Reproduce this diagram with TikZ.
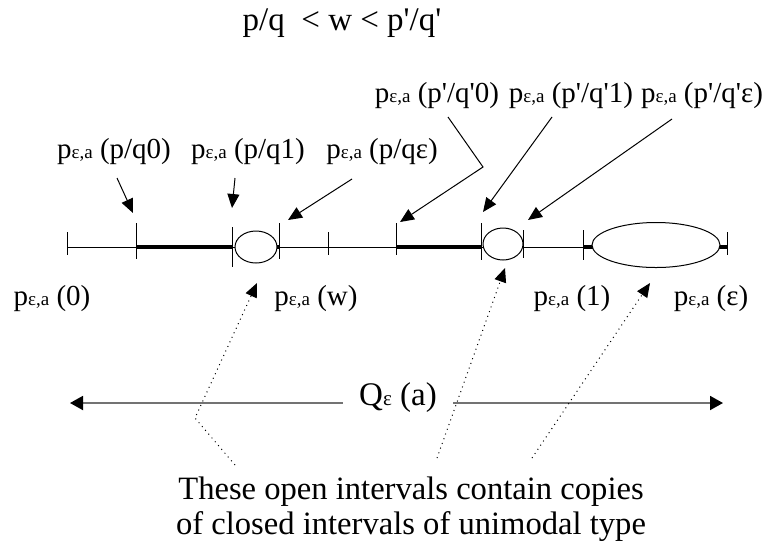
\documentclass[tikz,border=0pt]{standalone}
\usepackage{fontspec}
\setmainfont{Liberation Serif}
\usetikzlibrary{arrows.meta}

% straight prime and the p_{eps,a} symbol
\newcommand{\pr}{\textquotesingle}
\newcommand{\pe}{p{\fontsize{9.5}{10}\selectfont ε,a}}

\tikzset{
  lbl/.style={inner sep=0pt, anchor=base, font=\fontsize{14.5}{17}\selectfont},
  ptr/.style={-{Triangle[length=7pt,width=6pt]}, line width=0.5pt},
  dotptr/.style={ptr, dotted},
  thinseg/.style={line width=0.5pt},
  thickseg/.style={line width=1.6pt},
  qline/.style={-{Triangle[length=6.5pt,width=7pt,color=black]}, draw=black!55, line width=0.9pt}
}

\begin{document}
\begin{tikzpicture}[x=0.5pt,y=-0.5pt]
\useasboundingbox (0,0) rectangle (769,547);

% Title
\node[lbl, font=\fontsize{16.5}{20}\selectfont] (title) at (342,30) {p/q\ \ < w < p\pr/q\pr};

% The interval with its ticks
\draw[thinseg] (67,247) -- (727,247);
\draw[thickseg] (136,247) -- (232,247) (396,247) -- (481,247)
  (583,247) -- (595,247) (717,247) -- (727,247) (274,247) -- (279,247);
\foreach \x/\a/\b in {67/232/255, 136/223/259, 232/227/267, 279/223/259, 328/232/255,
  396/223/255, 481/223/260, 523/230/258, 583/230/260, 727/232/255}
  \draw[thinseg] (\x,\a) -- (\x,\b);

% Open intervals
\filldraw[thinseg, fill=white] (256,247) ellipse [x radius=21, y radius=16];
\filldraw[thinseg, fill=white] (503,244) ellipse [x radius=20, y radius=16];
\filldraw[thinseg, fill=white] (656,245) ellipse [x radius=64, y radius=22.5];

% Labels above
\node[lbl] (lq0) at (114,158) {\pe{} (p/q0)};
\node[lbl] (lq1) at (248,158) {\pe{} (p/q1)};
\node[lbl] (lqe) at (382,158) {\pe{} (p/qε)};
\node[lbl] (lr0) at (437,102) {\pe{} (p\pr/q\pr{}0)};
\node[lbl] (lr1) at (571,102) {\pe{} (p\pr/q\pr{}1)};
\node[lbl] (lre) at (702,102) {\pe{} (p\pr/q\pr{}ε)};

% Labels below
\node[lbl] (l0) at (52,305) {\pe{} (0)};
\node[lbl] (lw) at (316,305) {\pe{} (w)};
\node[lbl] (l1) at (572,305) {\pe{} (1)};
\node[lbl] (le) at (711,305) {\pe{} (ε)};

% Arrow tips on the interval
\coordinate (tq0) at (133,213);
\coordinate (tq1) at (232,208);
\coordinate (tqe) at (288,220);
\coordinate (br0) at (483,167);
\coordinate (tr0) at (400,222);
\coordinate (tr1) at (483,212);
\coordinate (tre) at (528,220);

\draw[ptr] ([shift={(3,20)}]lq0.base) -- (tq0);
\draw[ptr] ([shift={(-13,20)}]lq1.base) -- (tq1);
\draw[ptr] ([shift={(-30,21)}]lqe.base) -- (tqe);
\draw[ptr] ([shift={(11,15)}]lr0.base) -- (br0) -- (tr0);
\draw[ptr] ([shift={(-19,15)}]lr1.base) -- (tr1);
\draw[ptr] ([shift={(-30,17)}]lre.base) -- (tre);

% Q_eps(a)
\node[lbl, font=\fontsize{16.5}{18}\selectfont, inner xsep=8pt] (q) at (398,405)
  {Q{\fontsize{10.5}{12}\selectfont ε} (a)};
\coordinate (qa) at (70,403);
\coordinate (qb) at (723,403);
\draw[qline] (q.base west |- qa) -- (qa);
\draw[qline] (q.base east |- qb) -- (qb);

% Note and dotted pointers
\node[anchor=north, align=center, inner sep=0pt, font=\fontsize{16.3}{17.5}\selectfont]
  (note) at (411,476) {These open intervals contain copies\\of closed intervals of unimodal type};
\coordinate (bw) at (195,418);
\coordinate (tw) at (257,283);
\coordinate (t1) at (505,268);
\coordinate (te) at (650,283);
\draw[dotptr] ([shift={(-176,-11)}]note.north) -- (bw) -- (tw);
\draw[dotptr] ([shift={(26,-18)}]note.north) -- (t1);
\draw[dotptr] ([shift={(121,-18)}]note.north) -- (te);

\end{tikzpicture}
\end{document}
